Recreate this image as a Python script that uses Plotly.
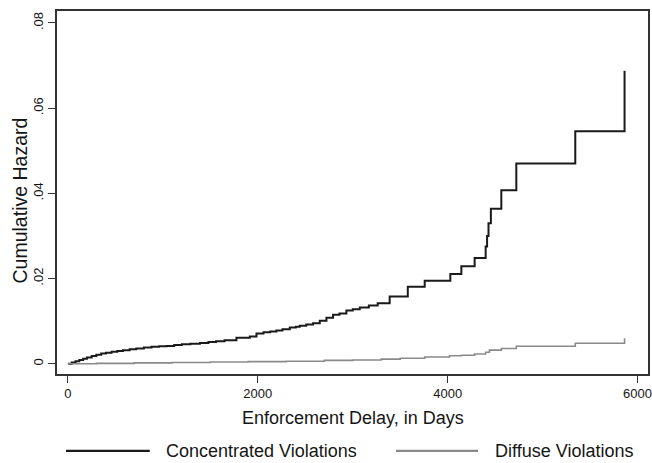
import plotly.graph_objects as go

# Concentrated violations: cumulative hazard step function
conc_days = [0, 40, 80, 120, 160, 200, 250, 300, 350, 400,
             460, 520, 580, 650, 720, 800, 880, 960, 1040, 1120,
             1200, 1290, 1390, 1480, 1560, 1650, 1775, 1916, 1986, 2060,
             2130, 2196, 2260, 2337, 2400, 2442, 2510, 2582, 2653, 2723,
             2793, 2860, 2933, 3000, 3074, 3170, 3263, 3389, 3580, 3758,
             4028, 4144, 4284, 4400, 4415, 4430, 4455, 4565, 4723, 5344,
             5863]
conc_hazard = [0, .0003, .0006, .0009, .0012, .0015, .0018, .0021, .0024, .0026,
               .0028, .0030, .0032, .0034, .0036, .0038, .0040, .0041, .0042, .0044,
               .0046, .0047, .0049, .0051, .0053, .0055, .0061, .0064, .0071, .0074,
               .0076, .0078, .0081, .0085, .0087, .0089, .0092, .0095, .0101, .0108,
               .0115, .0118, .0125, .0128, .0132, .0137, .0142, .0158, .0181, .0195,
               .0211, .0229, .0248, .0275, .0300, .0330, .0364, .0407, .0470, .0546,
               .0688]

# Diffuse violations
diff_days = [0, 300, 700, 1100, 1500, 1900, 2300, 2700, 3000, 3300,
             3500, 3758, 4020, 4144, 4284, 4400, 4440, 4565, 4723, 5344,
             5863]
diff_hazard = [0, .0001, .0002, .0003, .0004, .0005, .0006, .0008, .0009, .0011,
               .0013, .0016, .0019, .0020, .0023, .0027, .0032, .0036, .0041, .0048,
               .0060]

x_ticks = [0, 2000, 4000, 6000]
y_ticks = [0, 0.02, 0.04, 0.06, 0.08]
y_tick_labels = ["0", ".02", ".04", ".06", ".08"]
series_names = ["Concentrated Violations", "Diffuse Violations"]
x_title = "Enforcement Delay, in Days"
y_title = "Cumulative Hazard"

FONT = "Arial, Liberation Sans, sans-serif"
BLACK = "#1a1a1a"
GRAY = "#8a8a8a"
TXT = "#151515"

fig = go.Figure()
fig.add_trace(go.Scatter(x=conc_days, y=conc_hazard, mode="lines",
                         line=dict(color=BLACK, width=2, shape="hv"),
                         name=series_names[0], showlegend=False))
fig.add_trace(go.Scatter(x=diff_days, y=diff_hazard, mode="lines",
                         line=dict(color=GRAY, width=1.6, shape="hv"),
                         name=series_names[1], showlegend=False))

# Manual legend below the plot
legend_y = -0.212
fig.add_shape(type="line", xref="paper", yref="paper",
              x0=0.0152, x1=0.157, y0=legend_y, y1=legend_y,
              line=dict(color=BLACK, width=2.2))
fig.add_annotation(xref="paper", yref="paper", x=0.181, y=legend_y,
                   text=series_names[0], showarrow=False, xanchor="left",
                   yanchor="middle", font=dict(family=FONT, size=18, color=TXT))
fig.add_shape(type="line", xref="paper", yref="paper",
              x0=0.5736, x1=0.7124, y0=legend_y, y1=legend_y,
              line=dict(color=GRAY, width=2.2))
fig.add_annotation(xref="paper", yref="paper", x=0.7377, y=legend_y,
                   text=series_names[1], showarrow=False, xanchor="left",
                   yanchor="middle", font=dict(family=FONT, size=18, color=TXT))

# Axis titles
fig.add_annotation(xref="paper", yref="paper", x=0.5, y=-0.121,
                   text=x_title, showarrow=False, xanchor="center",
                   yanchor="middle", font=dict(family=FONT, size=18, color=TXT))
fig.add_annotation(xref="paper", yref="paper", x=-0.062, y=0.479,
                   text=y_title, showarrow=False, textangle=-90,
                   xanchor="center", yanchor="middle",
                   font=dict(family=FONT, size=19.5, color=TXT))

fig.update_layout(
    width=652, height=463,
    margin=dict(l=57, r=4, t=11, b=89),
    paper_bgcolor="white", plot_bgcolor="white",
    font=dict(family=FONT, color=TXT),
    showlegend=False,
)
fig.update_xaxes(range=[-115, 6110], tickvals=x_ticks, ticks="outside", ticklen=7,
                 tickcolor="#333", tickwidth=1.2, automargin=False,
                 ticklabeloverflow="allow",
                 showgrid=False, zeroline=False, showline=True, mirror=True,
                 linecolor="#333", linewidth=1.5,
                 tickfont=dict(size=13, family=FONT, color=TXT))
fig.update_yaxes(range=[-0.0024, 0.0828], tickvals=y_ticks, ticktext=y_tick_labels,
                 ticks="outside", ticklen=7, tickcolor="#333", tickwidth=1.2,
                 tickangle=-90, automargin=False,
                 showgrid=False, zeroline=False, showline=True, mirror=True,
                 linecolor="#333", linewidth=1.5,
                 tickfont=dict(size=13, family=FONT, color=TXT))

fig.write_html("out.html", config={"displayModeBar": False},
               post_script="document.body.style.margin='0';document.body.style.overflow='hidden';")
